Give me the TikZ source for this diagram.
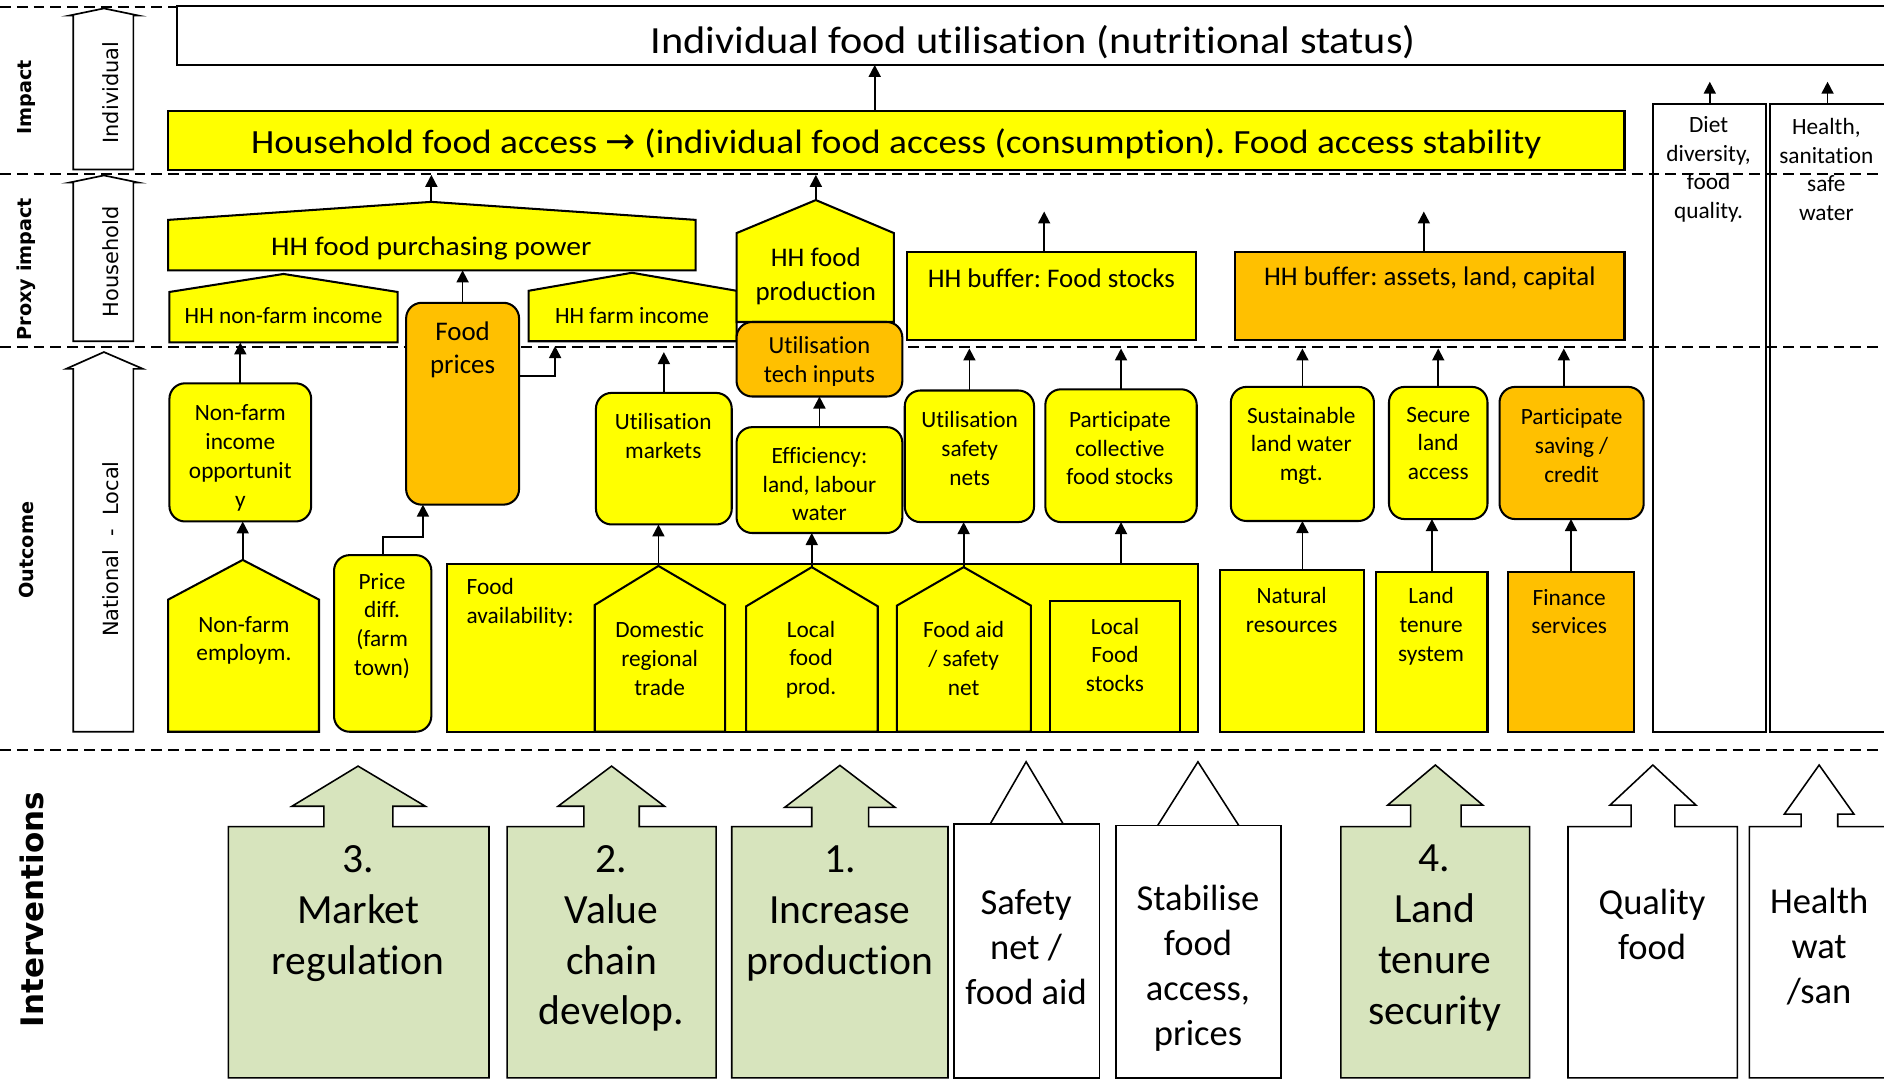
\documentclass[tikz,border=0pt]{standalone}
\usepackage{fontspec}
\setmainfont{Carlito}[Ligatures=NoCommon]
\newfontfamily\wide{Carlito}[Ligatures=NoCommon,FakeStretch=1.1]
\newfontfamily\djv{DejaVu Sans}
\usetikzlibrary{arrows.meta,fit}
\definecolor{yel}{HTML}{FFFF00}
\definecolor{org}{HTML}{FFC000}
\definecolor{grn}{HTML}{D7E4BD}
\newcommand\fS{\fontsize{9.7}{12}\selectfont}
\newcommand\fP{\fontsize{11.2}{14}\selectfont}
\newcommand\fG{\fontsize{17.3}{21.2}\selectfont}
\newcommand\fW{\fontsize{15.2}{18.7}\selectfont}
\newcommand\fL{\djv\bfseries\fontsize{8}{10}\selectfont}
\newcommand\fR{\djv\fontsize{8.7}{10}\selectfont}
\frenchspacing
\begin{document}
\frenchspacing
\begin{tikzpicture}[x=0.5pt,y=-0.5pt,
  bx/.style={draw=black, line width=0.85pt, inner sep=0pt, outer sep=0pt},
  rb/.style={bx, rounded corners=6.5pt},
  txt/.style={align=center, inner sep=0pt},
  arr/.style={-{Triangle[length=5pt,width=5pt]}, line width=0.75pt},
  sep/.style={dashed, dash pattern=on 4.5pt off 2.5pt, line width=0.9pt},
  ib/.style={draw=black, line width=0.65pt, line join=miter},
]
\useasboundingbox (0,0) rectangle (1568,900);
% ---------- separators
\draw[sep] (0,6) -- (1568,6);
\draw[sep] (0,145) -- (1568,145);
\draw[sep] (0,289) -- (1568,289);
\draw[sep] (0,624) -- (1568,624);

% ---------- left labels
\node[rotate=90, font=\fL] (lImpact) at (22,81) {Impact};
\node[rotate=90, font=\fL] (lProxy) at (22,224) {Proxy impact};
\node[rotate=90, font=\fL] (lOutcome) at (22,458) {Outcome};
\node[rotate=90, font=\djv\bfseries\fontsize{12.9}{15}\selectfont] (lInterv) at (27,757) {Interventions};

% ---------- scale arrows
\draw[bx, fill=white, line width=0.7pt] (61,141) -- (61,13) -- (57.5,13) -- (86.5,7) -- (115.5,13) -- (111,13) -- (111,141) -- cycle;
\draw[bx, fill=white, line width=0.7pt] (61,284) -- (61,152) -- (57.5,152) -- (86.5,146) -- (115.5,152) -- (111,152) -- (111,284) -- cycle;
\draw[bx, fill=white, line width=0.7pt] (61,609) -- (61,307) -- (55,307) -- (86.5,293) -- (119,307) -- (111,307) -- (111,609) -- cycle;
\node[rotate=90, font=\fR] (aInd) at (92,77) {Individual};
\node[rotate=90, font=\fR] (aHH) at (92,218) {Household};
\node[rotate=90, font=\fR] (aNat) at (92,457) {National \ - \ Local};

% ---------- impact
\node[bx, fill=white, fit={(147,5)(1580,54)}] (top) {};
\node[txt, font=\wide\fontsize{16}{19}\selectfont] (ttop) at (860,35) {Individual food utilisation (nutritional status)};
\node[bx, fill=yel, fit={(140,92)(1352,141.5)}] (hfa) {};
\node[txt, font=\wide\fontsize{14.1}{17}\selectfont] (thfa) at (746,120) {Household food access {\djv\fontsize{15}{17}\selectfont →} (individual food access (consumption). Food access stability};
\node[bx, fit={(1376,86.5)(1470,609)}] (diet) {};
\node[txt, font=\fS] (tdiet) at (1422,141) {Diet\\diversity,\\food\\quality.};
\node[bx, fit={(1473,86.5)(1580,609)}] (health) {};
\node[txt, font=\fS] (thealth) at (1520,141) {Health,\\sanitation\\safe\\water};

% ---------- proxy impact
\draw[bx, fill=yel] (140,225) -- (140,183) -- (359,168) -- (579,183) -- (579,225) -- cycle;
\coordinate (purchApex) at (359,168);
\node[bx, draw=none, fit={(140,183)(579,225)}] (purch) {};
\node[txt, font=\wide\fP] (tpurch) at (359,207) {HH food purchasing power};

\draw[bx, fill=yel] (141,285) -- (141,243) -- (236,228) -- (331,243) -- (331,285) -- cycle;
\node[bx, draw=none, fit={(141,243)(331,285)}] (nfinc) {};
\node[txt, font=\fS] (tnfinc) at (236,263) {HH non-farm income};

\draw[bx, fill=yel] (440,284) -- (440,242) -- (526,227) -- (613,242) -- (613,284) -- cycle;
\node[bx, draw=none, fit={(440,242)(613,284)}] (farm) {};
\node[txt, font=\fS] (tfarm) at (526,263) {HH farm income};

\draw[bx, fill=yel] (613,268) -- (613,194) -- (679,166.5) -- (744,194) -- (744,268) -- cycle;
\coordinate (prodApex) at (679,166.5);
\node[txt, font=\fP] (tprod) at (679,230) {HH food\\production};

\node[rb, fill=org, fit={(613,268)(751,330)}] (ut) {};
\node[txt, font=\fontsize{10.2}{12}\selectfont] (tut) at (682,301) {Utilisation\\tech inputs};

\node[rb, fill=org, fit={(338,252)(432,420)}] (fp) {};
\node[txt, font=\fP] (tfp) at (385,291) {Food\\prices};

\node[bx, fill=yel, fit={(755,210)(995,283)}] (buf1) {};
\node[txt, font=\fP] (tbuf1) at (875,232) {HH buffer: Food stocks};
\node[bx, fill=org, fit={(1028,210)(1352,283)}] (buf2) {};
\node[txt, font=\fP] (tbuf2) at (1190,232) {HH buffer: assets, land, capital};

% ---------- outcome
\node[rb, fill=yel, fit={(141,319)(259,434)}] (nfio) {};
\node[txt, font=\fS] (tnfio) at (200,381) {Non-farm\\income\\opportunit\\y};

\draw[bx, fill=yel] (140,609) -- (140,499) -- (202,466) -- (265.5,499) -- (265.5,609) -- cycle;
\coordinate (nfempApex) at (202,466);
\node[txt, font=\fS] (tnfemp) at (203,533) {Non-farm\\employm.};

\node[rb, fill=yel, fit={(278,462)(359,609)}] (pd) {};
\node[txt, font=\fS] (tpd) at (318,521) {Price\\diff.\\(farm\\town)};

\node[bx, fill=yel, fit={(372,469)(997,609)}] (fa) {};
\node[txt, font=\fS, align=left, anchor=west] (tfa) at (388,502) {Food\\availability:};

\draw[bx, fill=yel] (495,609) -- (495,503.5) -- (548,471) -- (603.5,503.5) -- (603.5,609) -- cycle;
\coordinate (domApex) at (548,471);
\node[txt, font=\fS] (tdom) at (549,548) {Domestic\\regional\\trade};

\draw[bx, fill=yel] (621,609) -- (621,504.6) -- (675.6,472) -- (730.5,504.6) -- (730.5,609) -- cycle;
\coordinate (lfpApex) at (675.6,472);
\node[txt, font=\fS] (tlfp) at (675,549) {Local\\food\\prod.};

\draw[bx, fill=yel] (746.5,609) -- (746.5,504) -- (802,472) -- (858,504) -- (858,609) -- cycle;
\coordinate (faidApex) at (802,472);
\node[txt, font=\fS] (tfaid) at (802,548) {Food aid\\/ safety\\net};

\node[bx, fill=yel, fit={(874,500.5)(982,609)}] (lfs) {};
\node[txt, font=\fS] (tlfs) at (928,545) {Local\\Food\\stocks};

\node[rb, fill=yel, fit={(496,327)(609,436.5)}] (mkt) {};
\node[txt, font=\fS] (tmkt) at (552,363) {Utilisation\\markets};

\node[rb, fill=yel, fit={(613,355.5)(751,443.6)}] (eff) {};
\node[txt, font=\fS] (teff) at (682,403) {Efficiency:\\land, labour\\water};

\node[rb, fill=yel, fit={(753,325)(860.6,434.5)}] (usn) {};
\node[txt, font=\fS] (tusn) at (807,373) {Utilisation\\safety\\nets};

\node[rb, fill=yel, fit={(870,324)(996,434.5)}] (pcfs) {};
\node[txt, font=\fS] (tpcfs) at (932,373) {Participate\\collective\\food stocks};

\node[rb, fill=yel, fit={(1024.4,322)(1143.5,433.6)}] (slwm) {};
\node[txt, font=\fS] (tslwm) at (1083,371) {Sustainable\\land water\\mgt.};

\node[bx, fill=yel, fit={(1015,474.5)(1135,609)}] (nr) {};
\node[txt, font=\fS] (tnr) at (1075,508) {Natural\\resources};

\node[rb, fill=yel, fit={(1156,322)(1238,432)}] (sla) {};
\node[txt, font=\fS] (tsla) at (1197,369) {Secure\\land\\access};

\node[bx, fill=yel, fit={(1145.5,476)(1238,609)}] (lts) {};
\node[txt, font=\fS] (tlts) at (1191,521) {Land\\tenure\\system};

\node[rb, fill=org, fit={(1248,322)(1368,432)}] (psc) {};
\node[txt, font=\fS] (tpsc) at (1308,371) {Participate\\saving /\\credit};

\node[bx, fill=org, fit={(1255,476)(1360,609)}] (fs) {};
\node[txt, font=\fS] (tfs) at (1306,509) {Finance\\services};

% ---------- connectors
\coordinate (c728) at (728,0);
\draw[arr] (hfa.north -| c728) -- (top.south -| c728);
\draw[arr, shorten >=2pt] (purchApex) -- (purchApex |- hfa.south);
\draw[arr] (fp.north) -- (fp.north |- purch.south);
\coordinate (fpOut) at (432,313);
\coordinate (farmIn) at (462,288);
\draw[arr] (fpOut) -| (farmIn);
\draw[arr] (nfio.north) -- (nfio.north |- nfinc.south);
\draw[arr] (nfempApex) -- (nfempApex |- nfio.south);
\coordinate (pdk) at (352,447);
\draw[arr] (pd.north) |- (pdk) -- (pdk |- fp.south);
\draw[arr] (domApex) -- (domApex |- mkt.south);
\draw[arr, shorten >=4.5pt] (mkt.north) -- (mkt.north |- farm.south);
\draw[arr] (lfpApex) -- (lfpApex |- eff.south);
\draw[arr] (eff.north) -- (eff.north |- ut.south);
\draw[arr, shorten >=2pt] (prodApex) -- (prodApex |- hfa.south);
\draw[arr] (faidApex) -- (faidApex |- usn.south);
\draw[arr, shorten >=3.5pt] (usn.north) -- (usn.north |- buf1.south);
\draw[arr] (fa.north -| pcfs.south) -- (pcfs.south);
\draw[arr, shorten >=3.5pt] (pcfs.north) -- (pcfs.north |- buf1.south);
\coordinate (b1end) at (869,176);
\draw[arr] (buf1.north -| b1end) -- (b1end);
\coordinate (b2end) at (1185,176);
\draw[arr] (buf2.north -| b2end) -- (b2end);
\draw[arr] (nr.north -| slwm.south) -- (slwm.south);
\draw[arr, shorten >=3.5pt] (slwm.north) -- (slwm.north |- buf2.south);
\draw[arr] (lts.north) -- (lts.north |- sla.south);
\draw[arr, shorten >=3.5pt] (sla.north) -- (sla.north |- buf2.south);
\draw[arr] (fs.north) -- (fs.north |- psc.south);
\coordinate (pscCol) at (1301.5,0);
\draw[arr, shorten >=3.5pt] (psc.north -| pscCol) -- (buf2.south -| pscCol);
\coordinate (dietEnd) at (1423,68);
\draw[arr] (diet.north -| dietEnd) -- (dietEnd);
\coordinate (hEnd) at (1521,68);
\draw[arr] (health.north -| hEnd) -- (hEnd);

% ---------- interventions
\draw[ib, fill=grn] (190,897) -- (190,688) -- (269.5,688) -- (269.5,671) -- (243,671) -- (298,637.6) -- (354,671) -- (327,671) -- (327,688) -- (407,688) -- (407,897) -- cycle;
\node[txt, font=\fG] (imr) at (298,760) {3.\\Market\\regulation};

\draw[ib, fill=grn] (422,897) -- (422,688) -- (486,688) -- (486,671) -- (464.5,671) -- (509,637.6) -- (553,671) -- (532,671) -- (532,688) -- (596,688) -- (596,897) -- cycle;
\node[txt, font=\fG] (ivc) at (509,781) {2.\\Value\\chain\\develop.};

\draw[ib, fill=grn] (609,897) -- (609,688) -- (675.6,688) -- (675.6,672) -- (653,672) -- (699,637) -- (745,672) -- (723,672) -- (723,688) -- (789,688) -- (789,897) -- cycle;
\node[txt, font=\fG] (iip) at (699,760) {1.\\Increase\\production};

\draw[ib, fill=white] (794,686) rectangle (915,897);
\draw[ib] (824,686) -- (854,634) -- (885,686);
\node[txt, font=\fW] (isn) at (854,788) {Safety\\net /\\food aid};

\draw[ib, fill=white] (929,687) rectangle (1066,897);
\draw[ib] (963.5,687) -- (997,634) -- (1031,687);
\node[txt, font=\fW] (isf) at (997,806) {Stabilise\\food\\access,\\prices};

\draw[ib, fill=grn] (1116,897) -- (1116,688) -- (1174,688) -- (1174,670) -- (1155,670) -- (1194.6,636.7) -- (1234,670) -- (1216,670) -- (1216,688) -- (1273,688) -- (1273,897) -- cycle;
\node[txt, font=\fG] (ilt) at (1194,781) {4.\\Land\\tenure\\security};

\draw[ib, fill=white] (1305,897) -- (1305,688) -- (1357.5,688) -- (1357.5,670) -- (1340,670) -- (1375.6,636.7) -- (1411.4,670) -- (1394,670) -- (1394,688) -- (1446,688) -- (1446,897) -- cycle;
\node[txt, font=\fW] (iqf) at (1375,769) {Quality\\food};

\draw[ib, fill=white] (1456,897) -- (1456,688) -- (1499,688) -- (1499,677.6) -- (1485,677.6) -- (1514,636.7) -- (1543,677.6) -- (1529.5,677.6) -- (1529.5,688) -- (1580,688) -- (1580,897) -- cycle;
\node[txt, font=\fW] (ihw) at (1514,788) {Health\\wat\\/san};
\end{tikzpicture}
\end{document}
